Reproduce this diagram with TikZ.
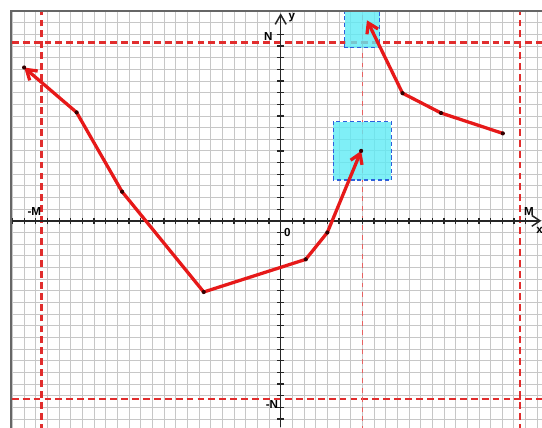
\documentclass[tikz,border=0pt]{standalone}
\usepackage{fontspec}
\setmainfont{Liberation Sans}
\usepackage{xcolor}
\usetikzlibrary{arrows.meta}

\definecolor{curvered}{RGB}{230,25,25}
\definecolor{guidered}{RGB}{225,45,45}
\definecolor{boxcyan}{RGB}{95,235,245}
\definecolor{boxblue}{RGB}{45,95,220}

\begin{document}
\begin{tikzpicture}[scale=0.3,
  curve/.style={draw=curvered, line width=2.4pt, line join=round},
  guide/.style={draw=guidered, line width=1.7pt, dash pattern=on 5pt off 3pt},
  thinguide/.style={draw=guidered!75, line width=1.1pt, dash pattern=on 3.5pt off 3.5pt},
  zone/.style={fill=boxcyan, fill opacity=0.8, draw=boxblue, line width=0.9pt, dash pattern=on 3pt off 2pt},
  axis/.style={black!85, line width=1.1pt},
  lbl/.style={font=\fontsize{8.5}{10}\selectfont\bfseries, inner sep=0pt}]

\useasboundingbox (-24.07,-17.68) rectangle (22.41,18.94);

% points of the two paths
\coordinate (p1) at (-22,13.15);
\coordinate (p2) at (-17.5,9.3);
\coordinate (p3) at (-13.6,2.5);
\coordinate (p4) at (-6.6,-6.1);
\coordinate (p5) at (2.15,-3.3);
\coordinate (p6) at (4,-1);
\coordinate (p7) at (6.9,6);
\coordinate (q1) at (7.4,17.2);
\coordinate (q2) at (10.45,10.95);
\coordinate (q3) at (13.75,9.25);
\coordinate (q4) at (19.05,7.5);

\begin{scope}

\clip (-23.15,-17.68) rectangle (22.41,18);

\draw[black!22, line width=0.6pt] (-24,-18) grid (23,18);

\draw[guide] (-20.5,-18) -- (-20.5,18);   % -M
\draw[guide] (20.5,-18) -- (20.5,18);     % M
\draw[guide] (-24,15.3) -- (23,15.3);     % N
\draw[guide] (-24,-15.3) -- (23,-15.3);   % -N
\draw[thinguide] (7,-18) -- (7,18);

\draw[zone] (4.5,3.5) rectangle (9.5,8.5);
\draw[zone] (5.5,14.85) rectangle (8.5,19);

\end{scope}

% axes
\coordinate (xend) at (22.35,0);
\coordinate (yend) at (0,17.8);
\draw[axis] (-23.15,0) -- (xend) [-{Straight Barb[length=6pt,width=8pt]}];
\draw[axis, -{Straight Barb[length=7pt,width=8pt]}] (0,-17.7) -- (yend);
\foreach \i in {-23,...,21}
  \draw[axis, line width=0.9pt] (\i,-0.28) -- (\i,0.28);
\foreach \j in {-17,...,16}
  \draw[axis, line width=0.9pt] (-0.28,\j) -- (0.28,\j);

% paths
\draw[curve, {Straight Barb[length=7pt,width=9pt]}-{Straight Barb[length=7pt,width=9pt]}]
  (p1) -- (p2) -- (p3) -- (p4) -- (p5) -- (p6) -- (p7);
\draw[curve, -{Straight Barb[length=7pt,width=9pt]}]
  (q4) -- (q3) -- (q2) -- (q1);

\foreach \p in {p1,p2,p3,p4,p5,p6,p7,q2,q3,q4}
  \fill[black!80!red] (\p) circle (0.18);

% frame
\draw[line width=1.7pt, black!60] (-23.15,-17.8) -- (-23.15,18) -- (22.5,18);

\node[lbl] (mpos) at (21.3,0.8) {M};
\node[lbl] (mneg) at (-21.13,0.78) {-M};
\node[lbl] (npos) at (-1.06,15.8) {N};
\node[lbl] (nneg) at (-0.75,-15.75) {-N};
\node[lbl] (orig) at (0.57,-0.98) {0};
\node[lbl] (ylbl) at (0.95,17.45) {y};
\node[lbl] (xlbl) at (22.2,-0.85) {x};

\end{tikzpicture}
\end{document}
